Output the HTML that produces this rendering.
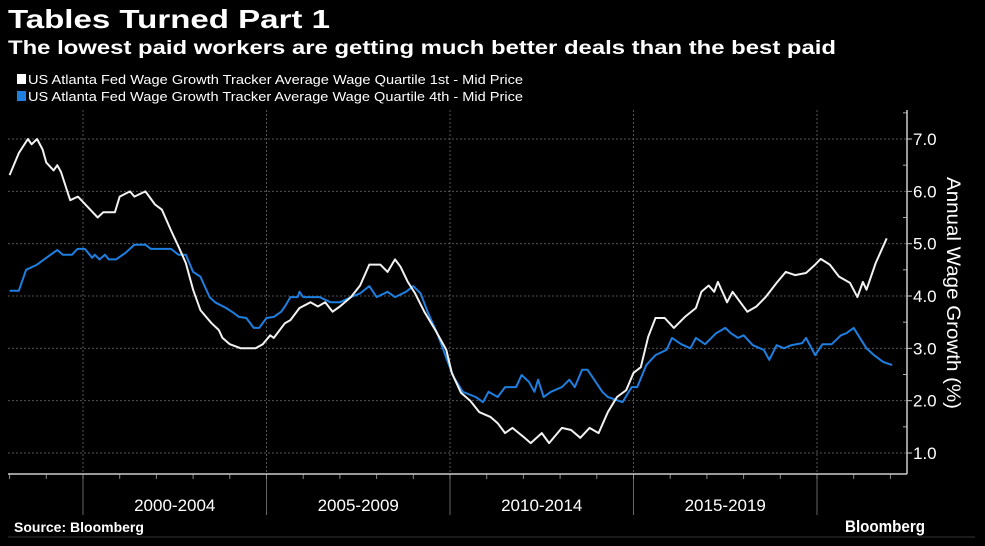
<!DOCTYPE html>
<html><head><meta charset="utf-8"><style>
html,body{margin:0;padding:0;background:#000;}
svg{display:block;}
text{font-family:"Liberation Sans Narrow","Liberation Sans",sans-serif;fill:#fff;}
</style></head><body>
<svg id="chart" width="985" height="546" viewBox="0 0 985 546" xmlns="http://www.w3.org/2000/svg">
<rect width="985" height="546" fill="#000"/>
<text x="8" y="28" font-size="26" font-weight="bold" textLength="322" lengthAdjust="spacingAndGlyphs">Tables Turned Part 1</text>
<text x="8" y="54" font-size="19" font-weight="bold" textLength="828" lengthAdjust="spacingAndGlyphs">The lowest paid workers are getting much better deals than the best paid</text>
<g>
<g><rect x="17" y="74" width="9" height="10" fill="#fff"/><text x="28" y="84" font-size="13" textLength="495" lengthAdjust="spacingAndGlyphs">US Atlanta Fed Wage Growth Tracker Average Wage Quartile 1st - Mid Price</text></g>
<g><rect x="17" y="91" width="9" height="10" fill="#1e7fe0"/><text x="28" y="101" font-size="13" textLength="495" lengthAdjust="spacingAndGlyphs">US Atlanta Fed Wage Growth Tracker Average Wage Quartile 4th - Mid Price</text></g>
</g>
<g id="grid"></g>
<g id="axes"></g>
<g id="series"></g>
<text transform="translate(947,293) rotate(90)" text-anchor="middle" font-size="19" fill="#ddd" textLength="232" lengthAdjust="spacingAndGlyphs">Annual Wage Growth (%)</text>
<text x="14" y="532" font-size="14" font-weight="bold">Source: Bloomberg</text>
<line x1="8" y1="537" x2="975" y2="537" stroke="#333" stroke-width="1"/>
<text x="845" y="532" font-size="17" font-weight="bold" textLength="80" lengthAdjust="spacingAndGlyphs">Bloomberg</text>
</svg>
<script>
const yTicks=[1,2,3,4,5,6,7];
const periodLabels=["2000-2004","2005-2009","2010-2014","2015-2019"];
const periodStarts=[2000,2005,2010,2015,2020];
const q1Dates=[1998.0,1998.25,1998.5,1998.6,1998.75,1998.9,1999.0,1999.2,1999.3,1999.4,1999.65,1999.86,2000.2,2000.4,2000.55,2000.87,2001.0,2001.28,2001.4,2001.7,2001.96,2002.15,2002.4,2002.6,2002.8,2003.0,2003.2,2003.5,2003.7,2003.8,2004.0,2004.3,2004.7,2004.9,2005.1,2005.2,2005.5,2005.65,2005.9,2006.2,2006.4,2006.6,2006.8,2007.0,2007.3,2007.55,2007.8,2008.1,2008.3,2008.5,2008.65,2008.85,2009.05,2009.3,2009.6,2009.9,2010.05,2010.3,2010.55,2010.8,2011.1,2011.3,2011.5,2011.7,2012.0,2012.2,2012.5,2012.7,2013.05,2013.3,2013.55,2013.8,2014.05,2014.3,2014.55,2014.8,2015.0,2015.2,2015.4,2015.6,2015.85,2016.1,2016.4,2016.7,2016.85,2017.05,2017.2,2017.3,2017.55,2017.7,2018.1,2018.35,2018.6,2018.9,2019.15,2019.4,2019.7,2019.95,2020.1,2020.35,2020.6,2020.9,2021.1,2021.25,2021.35,2021.6,2021.9];
const q1Values=[6.31,6.73,7.0,6.9,7.0,6.8,6.55,6.4,6.5,6.37,5.83,5.9,5.65,5.5,5.6,5.6,5.9,6.0,5.9,6.0,5.75,5.65,5.25,4.95,4.63,4.12,3.73,3.48,3.35,3.2,3.08,3.0,3.0,3.08,3.25,3.2,3.48,3.54,3.77,3.88,3.8,3.88,3.7,3.8,3.98,4.2,4.6,4.6,4.46,4.7,4.56,4.27,4.05,3.7,3.35,2.97,2.53,2.15,2.0,1.78,1.69,1.57,1.38,1.48,1.31,1.19,1.38,1.19,1.48,1.44,1.29,1.48,1.38,1.78,2.07,2.2,2.53,2.64,3.22,3.58,3.58,3.39,3.6,3.77,4.08,4.2,4.08,4.27,3.88,4.08,3.7,3.8,3.98,4.25,4.46,4.4,4.44,4.6,4.71,4.6,4.37,4.25,3.98,4.27,4.12,4.63,5.1];
const q4Dates=[1998.0,1998.25,1998.45,1998.75,1999.0,1999.3,1999.45,1999.7,1999.85,2000.05,2000.25,2000.32,2000.45,2000.6,2000.7,2000.9,2001.15,2001.4,2001.7,2001.85,2002.4,2002.6,2002.8,2003.0,2003.2,2003.45,2003.6,2003.9,2004.1,2004.25,2004.45,2004.65,2004.8,2005.0,2005.2,2005.4,2005.5,2005.65,2005.85,2005.9,2006.0,2006.45,2006.75,2007.0,2007.3,2007.55,2007.8,2008.0,2008.3,2008.5,2008.8,2009.0,2009.2,2009.4,2009.65,2009.95,2010.1,2010.35,2010.7,2010.9,2011.05,2011.3,2011.5,2011.8,2011.95,2012.15,2012.3,2012.4,2012.55,2012.75,2013.05,2013.25,2013.4,2013.6,2013.75,2014.15,2014.3,2014.7,2014.95,2015.1,2015.35,2015.6,2015.9,2016.05,2016.3,2016.55,2016.7,2016.95,2017.25,2017.5,2017.65,2017.85,2018.0,2018.25,2018.55,2018.7,2018.9,2019.1,2019.3,2019.6,2019.7,2019.95,2020.15,2020.4,2020.65,2020.8,2021.0,2021.15,2021.35,2021.55,2021.8,2022.05];
const q4Values=[4.1,4.1,4.5,4.6,4.73,4.88,4.79,4.79,4.9,4.9,4.73,4.79,4.7,4.79,4.7,4.7,4.82,4.98,4.98,4.9,4.9,4.79,4.79,4.46,4.37,3.98,3.88,3.77,3.68,3.6,3.58,3.39,3.39,3.58,3.6,3.7,3.8,3.98,3.98,4.08,3.98,3.98,3.88,3.88,3.98,4.05,4.19,3.98,4.08,3.98,4.08,4.19,4.05,3.68,3.29,2.72,2.45,2.17,2.07,1.97,2.17,2.07,2.26,2.26,2.49,2.36,2.17,2.4,2.07,2.17,2.26,2.4,2.26,2.59,2.59,2.17,2.07,1.97,2.26,2.26,2.68,2.87,2.97,3.2,3.08,3.0,3.2,3.08,3.29,3.39,3.29,3.2,3.25,3.06,2.97,2.78,3.06,3.0,3.06,3.1,3.2,2.87,3.08,3.08,3.25,3.29,3.39,3.22,3.0,2.87,2.74,2.68];

const NS="http://www.w3.org/2000/svg";
const X0=83, PXY=36.7;
function xScale(t){return X0+(t-2000)*PXY;}
function yScale(v){return 453-(v-1)*52.33;}
function mk(tag,attrs,parent){const e=document.createElementNS(NS,tag);for(const k in attrs)e.setAttribute(k,attrs[k]);parent.appendChild(e);return e;}
const grid=document.getElementById('grid'),axes=document.getElementById('axes'),series=document.getElementById('series');
const AXR=907, AXB=474;
yTicks.forEach(v=>{
  const y=yScale(v);
  const g=mk('line',{x1:8,y1:y,x2:AXR,y2:y,stroke:'#555','stroke-dasharray':'2,2','stroke-width':1},grid);
  
  
  mk('line',{x1:AXR,y1:y,x2:AXR+5,y2:y,stroke:'#ccc'},axes);
  const t=mk('text',{x:AXR+6,y:y+6,'font-size':17,fill:'#ddd'},axes);
  t.textContent=v.toFixed(1);
  
  
});
for(let v=1.5;v<7.6;v+=1){mk('line',{x1:AXR-4,y1:yScale(v),x2:AXR,y2:yScale(v),stroke:'#aaa'},axes);}
periodStarts.forEach(s=>{
  const x=xScale(s);
  const g=mk('line',{x1:x,y1:110,x2:x,y2:AXB,stroke:'#555','stroke-dasharray':'2,2'},grid);
  
  
  mk('line',{x1:x,y1:AXB,x2:x,y2:515,stroke:'#666'},axes);
});
for(let yr=1998;yr<=2022;yr++){const x=xScale(yr);if(x>5&&x<AXR)mk('line',{x1:x,y1:AXB,x2:x,y2:AXB+5,stroke:'#888'},axes);}
periodLabels.forEach((l,i)=>{
  const t=mk('text',{x:(xScale(periodStarts[i])+xScale(periodStarts[i+1]))/2,y:511,'text-anchor':'middle','font-size':17,fill:'#ddd'},axes);
  t.textContent=l;
  
  
});
const ya=mk('line',{x1:AXR,y1:110,x2:AXR,y2:AXB,stroke:'#ccc','stroke-width':1.5},axes);


const xa=mk('line',{x1:8,y1:AXB,x2:AXR,y2:AXB,stroke:'#ccc','stroke-width':1.5},axes);


function line(dates,vals){return dates.map((d,i)=>(i?'L':'M')+xScale(d).toFixed(1)+','+yScale(vals[i]).toFixed(1)).join('');}
const p4=mk('path',{d:line(q4Dates,q4Values),fill:'none',stroke:'#1e7fe0','stroke-width':2,'stroke-linejoin':'round'},series);


const p1=mk('path',{d:line(q1Dates,q1Values),fill:'none',stroke:'#f2f2f2','stroke-width':2,'stroke-linejoin':'round'},series);


</script>
</body></html>
